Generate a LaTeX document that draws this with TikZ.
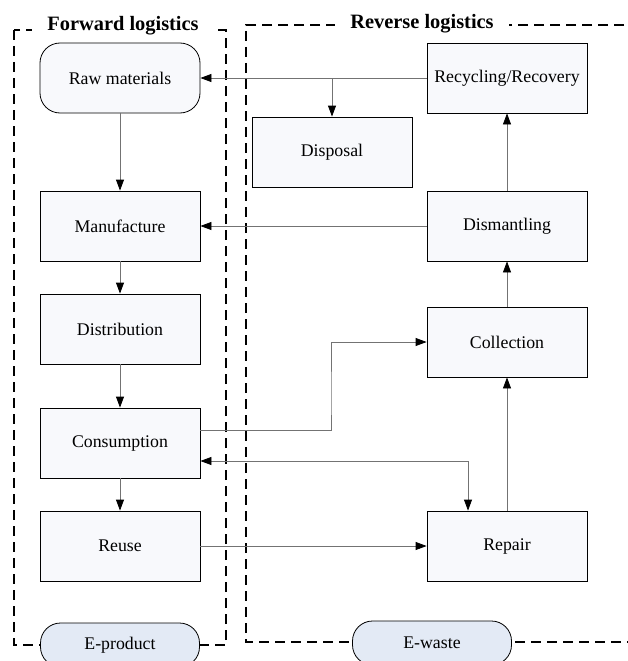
\documentclass[tikz,border=0pt]{standalone}
\usepackage{fontspec}
\setmainfont{Liberation Serif}
\usetikzlibrary{arrows.meta}
\definecolor{boxfill}{RGB}{248,249,252}
\definecolor{pillfill}{RGB}{227,234,245}
\begin{document}
\begin{tikzpicture}[
        x=1pt, y=-1pt,
        every node/.style = {font=\fontsize{17.8}{21}\selectfont},
        stage/.style = {draw, fill=boxfill, line width=0.8pt, minimum width=160pt, minimum height=70pt},
        roundstage/.style = {stage, rounded corners=20pt},
        pill/.style = {draw, fill=pillfill, line width=0.8pt, rounded corners=20pt, minimum width=159pt, minimum height=44pt},
        title/.style = {fill=white, font=\fontsize{20.4}{23}\selectfont\bfseries, inner xsep=15pt, inner ysep=2pt},
        frame/.style = {draw, line width=1.2pt, dash pattern=on 10pt off 6pt},
        link/.style = {draw=black!55, line width=0.8pt, -{Triangle[length=11pt, width=8pt, color=black]}},
        twoway/.style = {draw=black!55, line width=0.8pt, {Triangle[length=11pt, width=8pt, color=black]}-{Triangle[length=11pt, width=8pt, color=black]}}
        ]
        \useasboundingbox (0,0) rectangle (627,661);
        % frames
        \draw[frame] (14,30) rectangle (226,645);
        \draw[frame] (640,25) -- (246,25) -- (246,642) -- (640,642);
        \node[title] (fwd) at (123,26) {Forward logistics};
        \node[title] (rev) at (422,24) {Reverse logistics};
        % forward chain
        \node[roundstage] (raw)   at (120,78)  {Raw materials};
        \node[stage]      (manu)  at (120,226) {Manufacture};
        \node[stage]      (dist)  at (120,329) {Distribution};
        \node[stage]      (cons)  at (120,443) {Consumption};
        \node[stage]      (reuse) at (120,546) {Reuse};
        % reverse chain
        \node[stage] (recyc)   at (507,78)  {Recycling/Recovery};
        \node[stage] (disp)    at (332,152) {Disposal};
        \node[stage] (dism)    at (507,226) {Dismantling};
        \node[stage] (collect) at (507,342) {Collection};
        \node[stage] (repair)  at (507,546) {Repair};
        % labels at the bottom
        \node[pill] (eprod)  at (120,645) {E-product};
        \node[pill] (ewaste) at (432,643) {E-waste};
        \coordinate (bend) at (331,400);
        % connectors
        \draw[link] (recyc.west) -- (raw.east);
        \draw[link] (disp.north |- raw.east) -- (disp.north);
        \draw[link] (raw) -- (manu);
        \draw[link] (manu) -- (dist);
        \draw[link] (dist) -- (cons);
        \draw[link] (cons) -- (reuse);
        \draw[link] (dism) -- (manu);
        \draw[link] (dism) -- (recyc);
        \draw[link] (collect) -- (dism);
        \draw[link] (repair) -- (collect);
        \draw[link] ([yshift=13pt]cons.east) -| (bend) |- (collect.west);
        \draw[twoway] ([yshift=-18pt]cons.east) -| ([xshift=-39pt]repair.north);
        \draw[link] (reuse) -- (repair);
\end{tikzpicture}
\end{document}
